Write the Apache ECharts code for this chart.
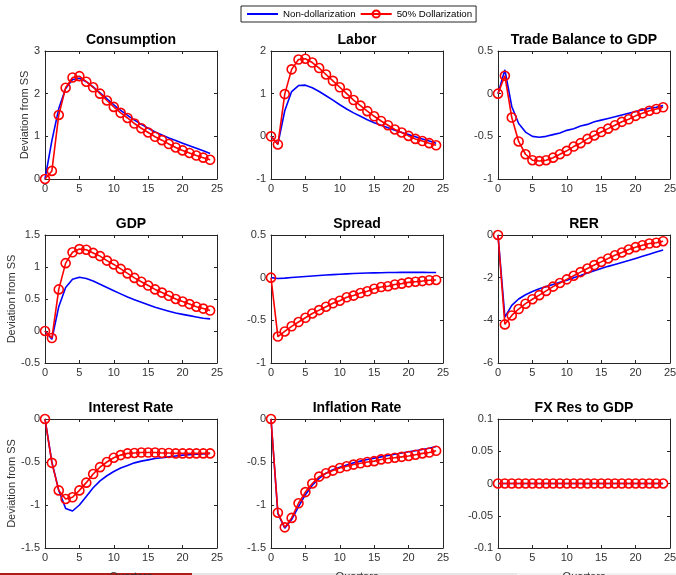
<!DOCTYPE html>
<html>
<head>
<meta charset="utf-8">
<script src="https://cdn.jsdelivr.net/npm/echarts@6/dist/echarts.min.js"></script>
<style>
html,body{margin:0;padding:0;background:#fff;}
#chart{width:676px;height:575px;}
</style>
</head>
<body>
<div id="chart"></div>
<script>
// ---- Data ----
const quarters = [0,1,2,3,4,5,6,7,8,9,10,11,12,13,14,15,16,17,18,19,20,21,22,23,24];
const seriesNames = ['Non-dollarization', '50% Dollarization'];
const panelTitles = ['Consumption','Labor','Trade Balance to GDP','GDP','Spread','RER','Interest Rate','Inflation Rate','FX Res to GDP'];
const yAxisTitle = 'Deviation from SS';
const xAxisTitle = 'Quarters';

const yMins = [0, -1, -1, -0.5, -1, -6, -1.5, -1.5, -0.1];
const yMaxs = [3, 2, 0.5, 1.5, 0.5, 0, 0, 0, 0.1];
const yIntervals = [1, 1, 0.5, 0.5, 0.5, 2, 0.5, 0.5, 0.05];

const consNon = [0,0.9,1.65,2.12,2.33,2.36,2.28,2.16,2.02,1.88,1.74,1.61,1.49,1.38,1.28,1.19,1.10,1.03,0.96,0.90,0.84,0.78,0.72,0.66,0.60];
const consDol = [0,0.19,1.5,2.14,2.38,2.41,2.28,2.15,2.0,1.84,1.69,1.55,1.43,1.30,1.19,1.09,0.99,0.91,0.82,0.74,0.67,0.61,0.55,0.50,0.45];
const laborNon = [0,-0.18,0.6,1.05,1.19,1.2,1.14,1.05,0.95,0.85,0.74,0.64,0.55,0.47,0.39,0.32,0.26,0.2,0.14,0.09,0.04,-0.01,-0.06,-0.11,-0.16];
const laborDol = [0,-0.19,0.99,1.57,1.80,1.82,1.73,1.60,1.45,1.30,1.15,1.0,0.85,0.72,0.59,0.47,0.36,0.26,0.16,0.09,0.01,-0.06,-0.11,-0.16,-0.21];
const tbNon = [0,0.28,-0.15,-0.35,-0.45,-0.5,-0.51,-0.5,-0.48,-0.46,-0.43,-0.41,-0.38,-0.36,-0.33,-0.31,-0.29,-0.27,-0.25,-0.23,-0.21,-0.19,-0.17,-0.16,-0.14];
const tbDol = [0,0.21,-0.28,-0.56,-0.71,-0.78,-0.79,-0.78,-0.75,-0.71,-0.67,-0.62,-0.58,-0.53,-0.49,-0.45,-0.41,-0.37,-0.33,-0.30,-0.26,-0.23,-0.20,-0.18,-0.16];
const gdpNon = [0,-0.13,0.38,0.68,0.81,0.84,0.82,0.78,0.73,0.68,0.63,0.58,0.53,0.49,0.45,0.41,0.37,0.34,0.31,0.28,0.26,0.24,0.22,0.20,0.19];
const gdpDol = [0,-0.11,0.65,1.06,1.23,1.28,1.27,1.22,1.17,1.10,1.04,0.97,0.90,0.83,0.77,0.71,0.65,0.60,0.55,0.50,0.46,0.42,0.38,0.35,0.32];
const spreadNon = [0,-0.01,-0.005,0.002,0.008,0.014,0.02,0.026,0.031,0.036,0.04,0.044,0.048,0.051,0.054,0.056,0.058,0.06,0.061,0.062,0.062,0.062,0.062,0.061,0.06];
const spreadDol = [0,-0.69,-0.63,-0.57,-0.52,-0.47,-0.42,-0.38,-0.34,-0.30,-0.27,-0.23,-0.21,-0.18,-0.16,-0.13,-0.11,-0.10,-0.08,-0.07,-0.055,-0.047,-0.04,-0.03,-0.027];
const rerNon = [0,-3.85,-3.3,-3.0,-2.8,-2.65,-2.52,-2.42,-2.32,-2.22,-2.12,-2.0,-1.9,-1.78,-1.67,-1.57,-1.47,-1.38,-1.29,-1.2,-1.1,-1.0,-0.9,-0.8,-0.7];
const rerDol = [0,-4.19,-3.77,-3.47,-3.22,-3.01,-2.82,-2.62,-2.42,-2.25,-2.08,-1.91,-1.74,-1.57,-1.41,-1.26,-1.10,-0.95,-0.82,-0.68,-0.57,-0.48,-0.40,-0.36,-0.29];
const irNon = [0,-0.5,-0.83,-1.04,-1.07,-1.0,-0.9,-0.8,-0.72,-0.66,-0.61,-0.57,-0.54,-0.51,-0.49,-0.475,-0.46,-0.45,-0.44,-0.43,-0.42,-0.415,-0.41,-0.405,-0.40];
const irDol = [0,-0.51,-0.83,-0.93,-0.91,-0.83,-0.74,-0.64,-0.56,-0.50,-0.45,-0.42,-0.40,-0.395,-0.39,-0.39,-0.39,-0.395,-0.395,-0.40,-0.40,-0.40,-0.40,-0.40,-0.40];
const infNon = [0,-1.1,-1.27,-1.17,-1.02,-0.88,-0.77,-0.69,-0.63,-0.59,-0.56,-0.535,-0.51,-0.49,-0.47,-0.455,-0.44,-0.425,-0.41,-0.395,-0.38,-0.37,-0.355,-0.34,-0.32];
const infDol = [0,-1.09,-1.26,-1.15,-0.98,-0.85,-0.75,-0.67,-0.63,-0.60,-0.57,-0.55,-0.53,-0.515,-0.50,-0.49,-0.47,-0.46,-0.45,-0.44,-0.43,-0.415,-0.40,-0.39,-0.37];
const fxNon = [0,0,0,0,0,0,0,0,0,0,0,0,0,0,0,0,0,0,0,0,0,0,0,0,0];
const fxDol = [0,0,0,0,0,0,0,0,0,0,0,0,0,0,0,0,0,0,0,0,0,0,0,0,0];

const nonData = [consNon, laborNon, tbNon, gdpNon, spreadNon, rerNon, irNon, infNon, fxNon];
const dolData = [consDol, laborDol, tbDol, gdpDol, spreadDol, rerDol, irDol, infDol, fxDol];

// ---- Layout ----
const colLefts = [45, 271, 498];
const rowTops = [51, 235, 419];
const plotW = 172;
const rowHeights = [128, 128, 129];
const axisColor = '#262626';
const labelColor = '#333333';
const font = '"Liberation Sans", Arial, Helvetica, sans-serif';

const grids = [], xAxes = [], yAxes = [], series = [], titles = [];
for (let i = 0; i < 9; i++) {
  const r = Math.floor(i / 3), c = i % 3;
  grids.push({left: colLefts[c], top: rowTops[r], width: plotW, height: rowHeights[r],
    containLabel: false, outerBoundsMode: 'none'});
  const xBase = {
    type: 'value', gridIndex: i, min: 0, max: 25, interval: 5,
    axisLine: {show: true, onZero: false, lineStyle: {color: axisColor, width: 1}},
    axisTick: {show: true, inside: true, length: 3, lineStyle: {color: axisColor}},
    splitLine: {show: false}
  };
  xAxes.push(Object.assign({}, xBase, {
    position: 'bottom',
    axisLabel: {show: true, color: labelColor, fontSize: 11, fontFamily: font, margin: 4},
    name: r === 2 ? xAxisTitle : '', nameLocation: 'middle', nameGap: 23,
    nameTextStyle: {color: labelColor, fontSize: 11, fontFamily: font}
  }));
  xAxes.push(Object.assign({}, xBase, {position: 'top', axisLabel: {show: false}}));
  const yBase = {
    type: 'value', gridIndex: i, min: yMins[i], max: yMaxs[i], interval: yIntervals[i],
    axisLine: {show: true, onZero: false, lineStyle: {color: axisColor, width: 1}},
    axisTick: {show: true, inside: true, length: 3, lineStyle: {color: axisColor}},
    splitLine: {show: false}
  };
  yAxes.push(Object.assign({}, yBase, {
    position: 'left',
    axisLabel: {show: true, color: labelColor, fontSize: 11, fontFamily: font, margin: 5},
    name: c === 0 ? yAxisTitle : '', nameLocation: 'middle', nameGap: r === 0 ? 15 : 27,
    nameTextStyle: {color: labelColor, fontSize: 11, fontFamily: font}
  }));
  yAxes.push(Object.assign({}, yBase, {position: 'right', axisLabel: {show: false}}));

  titles.push({
    text: panelTitles[i], left: colLefts[c] + plotW / 2, top: rowTops[r] - 18, textAlign: 'center',
    padding: 0,
    textStyle: {fontSize: 14, fontWeight: 'bold', color: '#000', fontFamily: font}
  });

  series.push({
    name: seriesNames[0], type: 'line', xAxisIndex: 2 * i, yAxisIndex: 2 * i,
    data: quarters.map((q, k) => [q, nonData[i][k]]),
    showSymbol: false, symbol: 'none', silent: true, animation: false,
    lineStyle: {color: '#0000ff', width: 1.6}, itemStyle: {color: '#0000ff'}
  });
  series.push({
    name: seriesNames[1], type: 'line', xAxisIndex: 2 * i, yAxisIndex: 2 * i,
    data: quarters.map((q, k) => [q, dolData[i][k]]),
    symbol: 'circle', symbolSize: 9, showSymbol: true, silent: true, animation: false,
    lineStyle: {color: '#ff0000', width: 1.6},
    itemStyle: {color: 'rgba(255,255,255,0)', borderColor: '#ff0000', borderWidth: 1.6}
  });
}

const chart = echarts.init(document.getElementById('chart'), null, {renderer: 'canvas'});
chart.setOption({
  backgroundColor: '#ffffff',
  animation: false,
  title: titles,
  legend: {
    data: [
      {name: seriesNames[0], itemStyle: {color: 'rgba(0,0,0,0)', borderWidth: 0, opacity: 0}},
      {name: seriesNames[1]}
    ],
    left: 241, top: 6, orient: 'horizontal',
    borderColor: axisColor, borderWidth: 1, padding: [3, 4, 3, 5],
    itemWidth: 31, itemHeight: 9, itemGap: 4,
    textStyle: {fontSize: 9.7, color: '#000', fontFamily: font}
  },
  grid: grids,
  xAxis: xAxes,
  yAxis: yAxes,
  series: series,
  graphic: [
    {type: 'rect', shape: {x: 0, y: 573, width: 192, height: 2}, style: {fill: '#b01c1c'}, silent: true},
    {type: 'rect', shape: {x: 192, y: 573, width: 325, height: 2}, style: {fill: '#e6e6e6'}, silent: true},
    {type: 'rect', shape: {x: 517, y: 573, width: 159, height: 2}, style: {fill: '#f2f2f2'}, silent: true}
  ]
});
</script>
</body>
</html>
